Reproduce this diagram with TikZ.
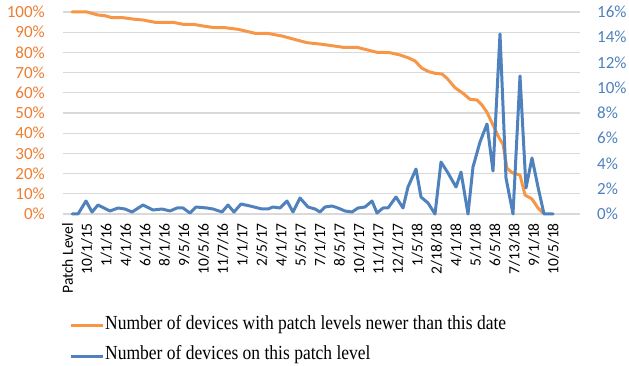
\documentclass[tikz,border=0pt]{standalone}
\usepackage{fontspec}
\setmainfont{Liberation Serif}
\newfontfamily\axisfont{Carlito}
\definecolor{orgline}{RGB}{247,150,70}
\definecolor{orgtext}{RGB}{237,125,49}
\definecolor{blueline}{RGB}{79,129,189}
\definecolor{bluetext}{RGB}{79,129,189}
\definecolor{gridgray}{RGB}{217,217,217}
\begin{document}
\begin{tikzpicture}[x=1pt,y=-1pt,
  gridline/.style={draw=gridgray, line width=1.2pt},
  series/.style={line width=3pt, line join=round, line cap=round},
  legline/.style={line width=3pt, line cap=butt},
  lefttick/.style={font=\axisfont\fontsize{17}{20}\selectfont, text=orgtext, anchor=east, inner sep=0pt},
  righttick/.style={font=\axisfont\fontsize{17}{20}\selectfont, text=bluetext, anchor=west, inner sep=0pt},
  xlab/.style={font=\axisfont\fontsize{15.5}{18}\selectfont, text=black, rotate=90, anchor=east, inner sep=0pt},
  legtext/.style={font=\fontsize{17.5}{20}\selectfont, text=black, anchor=base west, inner sep=0pt}]
\useasboundingbox (0,0) rectangle (629,366);
% grid
\foreach \k in {0,...,10} {
  \draw[gridline] (63,{214-\k*20.2}) -- (580,{214-\k*20.2});
}
% left ticks
\foreach \v [count=\k from 0] in {0,10,...,100} {
  \node[lefttick] (lt\k) at (45,{214-\k*20.2}) {\v\%};
}
% right ticks
\foreach \v [count=\k from 0] in {0,2,...,16} {
  \node[righttick] (rt\k) at (597,{214-\k*25.25}) {\v\%};
}
% x labels
\foreach \t [count=\i from 0] in {Patch Level,10/1/15,1/1/16,4/1/16,6/1/16,8/1/16,9/5/16,10/5/16,11/7/16,1/1/17,2/5/17,4/1/17,5/5/17,7/1/17,8/5/17,10/1/17,11/1/17,12/1/17,1/5/18,2/18/18,4/1/18,5/1/18,6/5/18,7/13/18,9/1/18,10/5/18} {
  \node[xlab] (xl\i) at ({67.5+\i*19.43},223) {\t};
}
% orange series
\draw[series, orgline] (72,12) -- (87,12) -- (98,15) -- (105,15.7) -- (112,17.7) -- (123,17.7) -- (135,19.3) -- (143,20) -- (155,22.3) -- (173,22.3) -- (183,24.3) -- (193,24.3) -- (203,26) -- (215,27.7) -- (225,27.7) -- (238,29.3) -- (255,33.3) -- (267,33.3) -- (282,36) -- (293,39) -- (307,42.7) -- (322,44.3) -- (332,45.7) -- (343,47.3) -- (357,47.3) -- (377,52.3) -- (390,52.7) -- (400,55) -- (408,57.7) -- (415,61) -- (422,68.3) -- (429,71.7) -- (435,73.3) -- (442,74) -- (447,78.3) -- (455,87.7) -- (463,93.3) -- (470,99.3) -- (477,100) -- (482,105) -- (487,112.3) -- (493,125) -- (499,137.7) -- (503,144.3) -- (507,168.3) -- (512,172.7) -- (520,175) -- (525,195) -- (532,199) -- (538,208) -- (543,213);
% blue series
\draw[series, blueline] (72,214) -- (78,214) -- (86,201) -- (92,212) -- (98,205) -- (110,211) -- (118,208) -- (125,209) -- (132,212) -- (143,205) -- (153,210) -- (162,209) -- (170,211) -- (177,208) -- (183,208) -- (190,213) -- (196,207) -- (207,208) -- (213,209) -- (222,212) -- (228,205) -- (234,212) -- (241,204) -- (250,206) -- (262,209) -- (268,209) -- (273,207) -- (280,208) -- (287,201) -- (293,212) -- (300,198) -- (308,207) -- (315,209) -- (320,212) -- (325,207) -- (332,206) -- (338,208) -- (345,211) -- (352,212) -- (358,208) -- (365,207) -- (372,201) -- (377,213) -- (383,208) -- (388,208) -- (396,197) -- (403,208) -- (408,187) -- (416,169) -- (421,197) -- (428,203) -- (435,214) -- (441,162) -- (448,173) -- (456,187) -- (461,172) -- (468,214) -- (473,167) -- (480,142) -- (487,124) -- (493,171) -- (500,34) -- (506,178) -- (513,214) -- (520,76) -- (526,188) -- (532,158) -- (538,187) -- (544,214) -- (553,214);
% legend
\coordinate (lo1) at (71,325);
\coordinate (lo2) at (103,325);
\coordinate (lb1) at (71,356);
\coordinate (lb2) at (103,356);
\draw[legline, orgline] (lo1) -- (lo2);
\draw[legline, blueline] (lb1) -- (lb2);
\node[legtext] (legA) at (105,329) {\scalebox{1}[1.14]{Number of devices with patch levels newer than this date}};
\node[legtext] (legB) at (105,359) {\scalebox{1}[1.14]{Number of devices on this patch level}};
\end{tikzpicture}
\end{document}
